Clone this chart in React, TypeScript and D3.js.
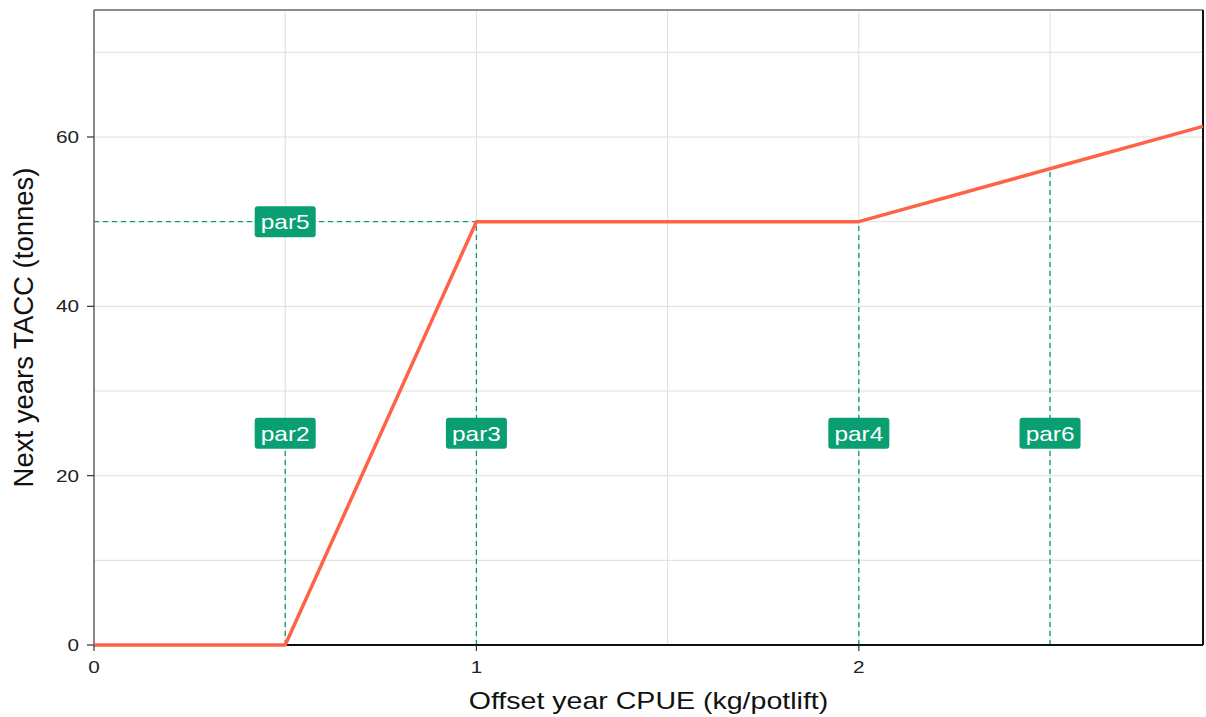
import React, { useEffect, useRef } from 'react';
import * as d3 from 'd3';

// control rule curve (CPUE -> TACC)
const cpue = [0, 0.5, 1, 2, 2.9];
const tacc = [0, 0, 50, 50, 61.25];

// parameter markers
const parNames = ['par2', 'par3', 'par4', 'par6'];
const parX = [0.5, 1, 2, 2.5];
const parTop = [25, 50, 50, 56.25];
const par5Value = 50;
const par5LabelX = 0.5;
const labelY = 25;

const xTicks = [0, 1, 2];
const yTicks = [0, 20, 40, 60];
const xGrid = [0, 0.5, 1, 1.5, 2, 2.5];
const yGrid = [0, 10, 20, 30, 40, 50, 60, 70];

const GREEN = '#0a9e73';
const FONT = '"Liberation Sans", Arial, sans-serif';
const SX = 1.22; // text in the reference looks a bit wide

const App = () => {
  const ref = useRef<SVGSVGElement>(null);

  useEffect(() => {
    const width = 1206;
    const height = 717;
    const m = { left: 94, right: 3, top: 10, bottom: 72 };

    const svg = d3.select(ref.current);
    svg.selectAll('*').remove();
    svg.attr('width', width).attr('height', height);

    const x = d3.scaleLinear().domain([0, 2.9]).range([m.left, width - m.right]);
    const y = d3.scaleLinear().domain([0, 75]).range([height - m.bottom, m.top]);

    const g = svg.append('g');

    // grid
    g.selectAll('.vg')
      .data(xGrid)
      .enter()
      .append('line')
      .attr('x1', d => x(d)).attr('x2', d => x(d))
      .attr('y1', y(0)).attr('y2', y(75))
      .attr('stroke', '#dedede').attr('stroke-width', 1);
    g.selectAll('.hg')
      .data(yGrid)
      .enter()
      .append('line')
      .attr('x1', x(0)).attr('x2', x(2.9))
      .attr('y1', d => y(d)).attr('y2', d => y(d))
      .attr('stroke', '#dedede').attr('stroke-width', 1);

    // dashed guides
    const dash = '5,4';
    g.append('line')
      .attr('x1', x(0)).attr('x2', x(1))
      .attr('y1', y(par5Value)).attr('y2', y(par5Value))
      .attr('stroke', GREEN).attr('stroke-width', 1.3).attr('stroke-dasharray', dash);
    parX.forEach((px, i) => {
      g.append('line')
        .attr('x1', x(px)).attr('x2', x(px))
        .attr('y1', y(0)).attr('y2', y(parTop[i]))
        .attr('stroke', GREEN).attr('stroke-width', 1.3).attr('stroke-dasharray', dash);
    });

    // frame
    g.append('line').attr('x1', x(0)).attr('x2', x(2.9)).attr('y1', y(75)).attr('y2', y(75))
      .attr('stroke', '#666').attr('stroke-width', 1.5);
    g.append('line').attr('x1', x(0)).attr('x2', x(0)).attr('y1', y(0)).attr('y2', y(75))
      .attr('stroke', '#666').attr('stroke-width', 1.5);
    g.append('line').attr('x1', x(2.9)).attr('x2', x(2.9)).attr('y1', y(0)).attr('y2', y(75))
      .attr('stroke', '#111').attr('stroke-width', 2);
    g.append('line').attr('x1', x(0)).attr('x2', x(2.9)).attr('y1', y(0)).attr('y2', y(0))
      .attr('stroke', '#111').attr('stroke-width', 2);

    // curve
    const line = d3.line<number>().x((_, i) => x(cpue[i])).y(d => y(d));
    g.append('path')
      .attr('d', line(tacc))
      .attr('fill', 'none')
      .attr('stroke', '#ff6347')
      .attr('stroke-width', 3.5)
      .attr('stroke-linejoin', 'round');

    // labels
    const labels = parNames.map((n, i) => ({ n, px: parX[i], py: labelY }))
      .concat([{ n: 'par5', px: par5LabelX, py: par5Value }]);
    labels.forEach(l => {
      const lg = g.append('g').attr('transform', `translate(${x(l.px)},${y(l.py)})`);
      lg.append('rect')
        .attr('x', -30.5).attr('y', -15.5).attr('width', 61).attr('height', 31)
        .attr('rx', 3).attr('fill', GREEN);
      lg.append('text')
        .attr('transform', `scale(${SX},1)`)
        .attr('text-anchor', 'middle').attr('dy', '0.36em')
        .attr('fill', '#fff').style('font-family', FONT).style('font-size', '20px')
        .text(l.n);
    });

    // ticks
    g.selectAll('.xt')
      .data(xTicks)
      .enter()
      .append('line')
      .attr('x1', d => x(d)).attr('x2', d => x(d))
      .attr('y1', y(0)).attr('y2', y(0) + 6)
      .attr('stroke', '#333').attr('stroke-width', 1.2);
    g.selectAll('.xl')
      .data(xTicks)
      .enter()
      .append('text')
      .attr('transform', d => `translate(${x(d)},${y(0) + 28}) scale(${SX},1)`)
      .attr('text-anchor', 'middle')
      .style('font-family', FONT).style('font-size', '17px').attr('fill', '#222')
      .text(d => d);
    g.selectAll('.yt')
      .data(yTicks)
      .enter()
      .append('line')
      .attr('x1', x(0) - 7).attr('x2', x(0))
      .attr('y1', d => y(d)).attr('y2', d => y(d))
      .attr('stroke', '#333').attr('stroke-width', 1.2);
    g.selectAll('.yl')
      .data(yTicks)
      .enter()
      .append('text')
      .attr('transform', d => `translate(${x(0) - 15},${y(d)}) scale(${SX},1)`)
      .attr('dy', '0.36em')
      .attr('text-anchor', 'end')
      .style('font-family', FONT).style('font-size', '17px').attr('fill', '#222')
      .text(d => d);

    // axis titles
    g.append('text')
      .attr('transform', `translate(${(x(0) + x(2.9)) / 2},709) scale(1.19,1)`)
      .attr('text-anchor', 'middle')
      .style('font-family', FONT).style('font-size', '24px').attr('fill', '#111')
      .text('Offset year CPUE (kg/potlift)');
    g.append('text')
      .attr('transform', `translate(33,${(y(0) + y(75)) / 2}) rotate(-90)`)
      .attr('text-anchor', 'middle')
      .style('font-family', FONT).style('font-size', '27.5px').attr('fill', '#111')
      .text('Next years TACC (tonnes)');
  }, []);

  return <svg ref={ref} style={{ position: 'absolute', left: 0, top: 0 }}></svg>;
};

export default App;
